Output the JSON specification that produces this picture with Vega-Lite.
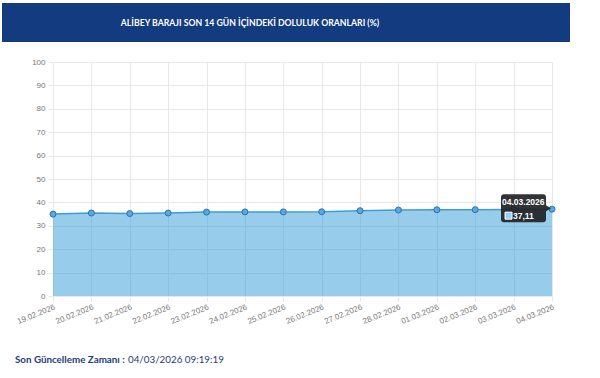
{
  "$schema": "https://vega.github.io/schema/vega-lite/v6.json",
  "padding": {"left": 2, "top": 3, "right": 0, "bottom": 0},
  "background": "white",
  "spacing": 16,
  "config": {
    "locale": {"number": {"decimal": ",", "thousands": ".", "grouping": [3], "currency": ["", " TL"]}},
    "view": {"stroke": null}
  },
  "datasets": {
    "doluluk": [
      {"tarih": "19.02.2026", "oran": 35.0},
      {"tarih": "20.02.2026", "oran": 35.45},
      {"tarih": "21.02.2026", "oran": 35.25},
      {"tarih": "22.02.2026", "oran": 35.45},
      {"tarih": "23.02.2026", "oran": 35.85},
      {"tarih": "24.02.2026", "oran": 35.95},
      {"tarih": "25.02.2026", "oran": 35.95},
      {"tarih": "26.02.2026", "oran": 36.0},
      {"tarih": "27.02.2026", "oran": 36.45},
      {"tarih": "28.02.2026", "oran": 36.75},
      {"tarih": "01.03.2026", "oran": 36.85},
      {"tarih": "02.03.2026", "oran": 36.9},
      {"tarih": "03.03.2026", "oran": 37.0},
      {"tarih": "04.03.2026", "oran": 37.11}
    ]
  },
  "vconcat": [
    {
      "width": 568,
      "height": 39,
      "view": {"fill": "#123b80", "stroke": null},
      "data": {"values": [{"baslik": "ALİBEY BARAJI SON 14 GÜN İÇİNDEKİ DOLULUK ORANLARI (%)"}]},
      "mark": {"type": "text", "color": "white", "font": "Lato", "fontWeight": "bold", "fontSize": 8.7, "dx": -36, "align": "center", "baseline": "middle"},
      "encoding": {"text": {"field": "baslik"}}
    },
    {
      "width": 550,
      "height": 234,
      "data": {"name": "doluluk"},
      "encoding": {
        "x": {
          "field": "tarih", "type": "ordinal", "sort": null,
          "scale": {"type": "point", "padding": 0, "range": [51, 550]},
          "axis": {"title": null, "labelAngle": -22, "labelAlign": "right", "labelBaseline": "top", "labelFontSize": 8, "labelFont": "Liberation Sans", "labelColor": "#777777", "labelPadding": 2, "grid": true, "gridColor": "#e8e8e8", "tickColor": "#e8e8e8", "tickSize": 5, "domain": false, "labelOverlap": false}
        },
        "y": {
          "field": "oran", "type": "quantitative",
          "scale": {"domain": [0, 100]},
          "axis": {"title": null, "offset": -51, "values": [0, 10, 20, 30, 40, 50, 60, 70, 80, 90, 100], "labelFontSize": 8, "labelFont": "Liberation Sans", "labelColor": "#777777", "labelPadding": 3, "gridColor": "#e8e8e8", "tickColor": "#e8e8e8", "tickSize": 5, "domain": false}
        }
      },
      "layer": [
        {"mark": {"type": "area", "fill": "#2f9bd6", "fillOpacity": 0.5}},
        {"mark": {"type": "line", "color": "#3d9ddc", "strokeWidth": 1.5}},
        {"mark": {"type": "point", "filled": true, "size": 36, "fill": "#59a8df", "stroke": "#2a73b0", "strokeWidth": 1, "opacity": 1}},
        {
          "transform": [{"filter": "datum.tarih == '04.03.2026'"}],
          "mark": {"type": "point", "filled": true, "size": 4, "shape": "M-48,-15 H-9 Q-6,-15 -6,-12 V-4 L-1,-1 L-6,2 V10 Q-6,13 -9,13 H-48 Q-51,13 -51,10 V-12 Q-51,-15 -48,-15 Z", "fill": "#1f2225", "opacity": 0.92, "strokeWidth": 0}
        },
        {
          "transform": [{"filter": "datum.tarih == '04.03.2026'"}],
          "mark": {"type": "point", "filled": true, "size": 4, "shape": "M-47,3 H-40 V10 H-47 Z", "fill": "#9bd0f5", "stroke": "white", "strokeWidth": 1, "opacity": 1}
        },
        {
          "transform": [{"filter": "datum.tarih == '04.03.2026'"}],
          "mark": {"type": "text", "align": "left", "baseline": "middle", "dx": -50, "dy": -7, "font": "Liberation Sans", "fontWeight": "bold", "fontSize": 8.5, "color": "white"},
          "encoding": {"text": {"field": "tarih"}}
        },
        {
          "transform": [{"filter": "datum.tarih == '04.03.2026'"}],
          "mark": {"type": "text", "align": "left", "baseline": "middle", "dx": -39, "dy": 6.5, "font": "Liberation Sans", "fontWeight": "bold", "fontSize": 8.5, "color": "white"},
          "encoding": {"text": {"field": "oran", "type": "quantitative", "format": ".2f"}}
        }
      ]
    },
    {
      "width": 568,
      "height": 36,
      "data": {"values": [{"etiket": "Son Güncelleme Zamanı :", "zaman": "04/03/2026 09:19:19"}]},
      "encoding": {"x": {"datum": 0, "type": "quantitative", "scale": {"domain": [0, 1]}, "axis": null}},
      "layer": [
        {"mark": {"type": "text", "align": "left", "baseline": "middle", "dx": 13, "font": "Lato", "fontWeight": "bold", "fontSize": 9.8, "color": "#1c3d7a"}, "encoding": {"text": {"field": "etiket"}}},
        {"mark": {"type": "text", "align": "left", "baseline": "middle", "dx": 126, "font": "Lato", "fontSize": 9.8, "color": "#1c3d7a"}, "encoding": {"text": {"field": "zaman"}}}
      ]
    }
  ]
}
